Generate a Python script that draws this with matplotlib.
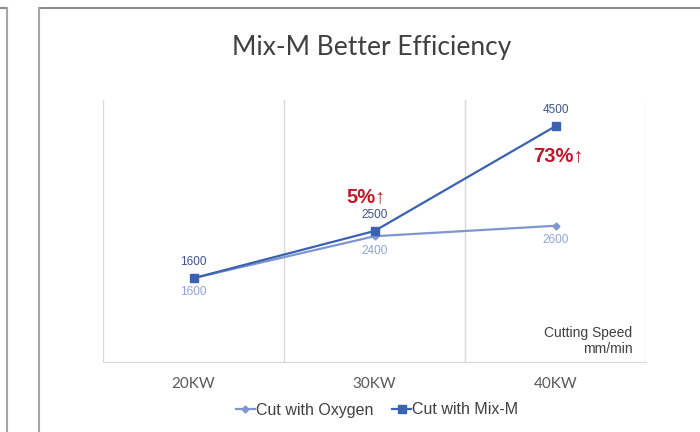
import numpy as np
import matplotlib
matplotlib.use('Agg')
import matplotlib.pyplot as plt
from matplotlib.lines import Line2D

categories = ['20KW', '30KW', '40KW']
oxygen = [1600, 2400, 2600]
mix_m = [1600, 2500, 4500]
gain_labels = ['', '5%\u2191', '73%\u2191']

plt.rcParams['font.family'] = ['Liberation Sans', 'DejaVu Sans']

c_oxy = '#7F96D0'
c_mix = '#3A62B0'

fig = plt.figure(figsize=(7, 4.32), dpi=100)
ax = fig.add_axes([103/700, 1 - 362/432, 543/700, 262/432])

x = np.arange(len(categories))
ax.plot(x, oxygen, color=c_oxy, lw=1.6, marker='D', ms=3.5, label='Cut with Oxygen', zorder=3)
ax.plot(x, mix_m, color=c_mix, lw=1.6, marker='s', ms=5.5, label='Cut with Mix-M', zorder=4)

for i in range(len(categories)):
    ax.annotate(str(mix_m[i]), (x[i], mix_m[i]), xytext=(0, 7), textcoords='offset points',
                ha='center', va='bottom', fontsize=8.5, color='#3F5290')
    ax.annotate(str(oxygen[i]), (x[i], oxygen[i]), xytext=(0, -6), textcoords='offset points',
                ha='center', va='top', fontsize=8.5, color='#8EA4D8')
    if gain_labels[i]:
        ax.annotate(gain_labels[i], (x[i], mix_m[i]), xytext=(-6 if i == 1 else 2, 25 if i == 1 else -21),
                    textcoords='offset points', ha='center', va='center',
                    fontsize=14.5, fontweight='bold', color='#C0182A')

ax.set_xlim(-0.5, 2.5)
ax.set_ylim(0, 5000)
ax.set_yticks([])
ax.set_xticks(x)
ax.set_xticklabels(categories, fontsize=11, color='#595959', family=['Lato', 'DejaVu Sans'])
ax.tick_params(axis='x', length=0, pad=11)
for xv in [-0.5, 0.5, 1.5, 2.5]:
    ax.axvline(xv, color='#D9D9D9', lw=1, zorder=1)
for s in ['top', 'left', 'right']:
    ax.spines[s].set_visible(False)
ax.spines['bottom'].set_color('#D9D9D9')

ax.text(0.975, 0.08, 'Cutting Speed\nmm/min', transform=ax.transAxes, ha='right', va='center',
        fontsize=10, color='#404040', linespacing=1.2)

fig.text(372/700, 1 - 48/432, 'Mix-M Better Efficiency', ha='center', va='center',
         fontsize=19, color='#404040', family=['Lato', 'DejaVu Sans'])

ax.legend(loc='center', bbox_to_anchor=(377/700, 1 - 410/432), bbox_transform=fig.transFigure,
          ncol=2, frameon=False, fontsize=11.5, handlelength=1.2, handletextpad=0.05,
          columnspacing=1.2, labelcolor='#404040')

# decorative frame lines
gray = '#8C8C8C'
fig.add_artist(Line2D([0, 7/700], [1 - 8/432, 1 - 8/432], color=gray, lw=1.5))
fig.add_artist(Line2D([7/700, 7/700], [0, 1 - 8/432], color='#A6A6A6', lw=1.5))
fig.add_artist(Line2D([39/700, 1], [1 - 8/432, 1 - 8/432], color=gray, lw=1.5))
fig.add_artist(Line2D([39/700, 39/700], [0, 1 - 8/432], color='#A6A6A6', lw=1.5))

fig.savefig('out.png', dpi=100)
